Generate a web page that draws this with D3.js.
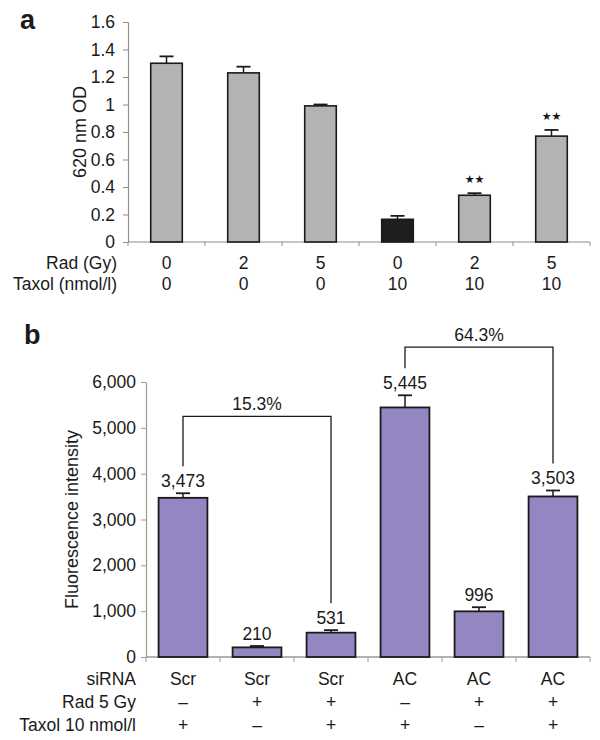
<!DOCTYPE html>
<html><head><meta charset="utf-8">
<script src="https://cdn.jsdelivr.net/npm/d3@7"></script>
<style>
body{margin:0;background:#fff}
svg{display:block;background:#fff}
text{font-family:"Liberation Sans",Arial,Helvetica,sans-serif;fill:#1a1a1a}
</style>
</head><body>
<svg id="chart" width="600" height="740"></svg>
<script>
// ---------- Panel a data ----------
const radA = ["0", "2", "5", "0", "2", "5"];
const taxolA = ["0", "0", "0", "10", "10", "10"];
const valuesA = [1.30, 1.23, 0.99, 0.165, 0.34, 0.77];
const errorsA = [0.05, 0.045, 0.01, 0.025, 0.015, 0.045];
const sigA = ["", "", "", "", "★★", "★★"];
const darkA = [false, false, false, true, false, false];
const yTicksA = [0, 0.2, 0.4, 0.6, 0.8, 1, 1.2, 1.4, 1.6];
const yTickLabelsA = ["0", "0.2", "0.4", "0.6", "0.8", "1", "1.2", "1.4", "1.6"];
const rowLabelsA = ["Rad (Gy)", "Taxol (nmol/l)"];

// ---------- Panel b data ----------
const sirnaB = ["Scr", "Scr", "Scr", "AC", "AC", "AC"];
const radB = ["–", "+", "+", "–", "+", "+"];
const taxolB = ["+", "–", "+", "+", "–", "+"];
const valuesB = [3473, 210, 531, 5445, 996, 3503];
const errorsB = [100, 30, 55, 265, 90, 130];
const yTicksB = [0, 1000, 2000, 3000, 4000, 5000, 6000];
const rowLabelsB = ["siRNA", "Rad 5 Gy", "Taxol 10 nmol/l"];
const bracketFrom = [0, 3];
const bracketTo = [2, 5];
const bracketLevel = [5250, 6760];
const bracketLabel = ["15.3%", "64.3%"];

const svg = d3.select("#chart");
const FS = 17.5;

// ================= PANEL A =================
{
  const n = valuesA.length;
  const x = d3.scaleBand().domain(d3.range(n)).range([128, 590]);
  const y = d3.scaleLinear().domain([0, 1.6]).range([242, 22]);
  const axisCol = "#8e8e8e";
  const bw = x.bandwidth() * 0.41;
  const cx = i => x(i) + x.bandwidth() / 2;

  svg.append("text").attr("x", 20).attr("y", 29)
    .style("font-size", "27px").style("font-weight", "bold").text("a");

  const ya = svg.append("g").attr("transform", "translate(128,0)")
    .call(d3.axisLeft(y).tickValues(yTicksA).tickFormat((d, i) => yTickLabelsA[i])
      .tickSize(5).tickSizeOuter(0).tickPadding(8));
  ya.select(".domain").attr("stroke", axisCol).attr("stroke-width", 1.2);
  ya.selectAll(".tick line").attr("stroke", axisCol);
  ya.selectAll(".tick text").style("font-size", FS + "px")
    .style("font-family", "'Liberation Sans',Arial,sans-serif").attr("fill", "#1a1a1a");

  const g = svg.append("g");
  g.append("line").attr("x1", x.range()[0]).attr("x2", x.range()[1])
    .attr("y1", y(0)).attr("y2", y(0)).attr("stroke", axisCol).attr("stroke-width", 1.2);
  const bounds = d3.range(n).map(i => x(i)).concat([x.range()[1]]);
  g.selectAll(".bt").data(bounds).join("line")
    .attr("x1", d => d).attr("x2", d => d).attr("y1", y(0)).attr("y2", y(0) + 4)
    .attr("stroke", axisCol);

  g.selectAll(".eb").data(valuesA).join("g").each(function (d, i) {
    const s = d3.select(this);
    s.append("line").attr("x1", cx(i)).attr("x2", cx(i))
      .attr("y1", y(d)).attr("y2", y(d + errorsA[i])).attr("stroke", "#1a1a1a").attr("stroke-width", 1.5);
    s.append("line").attr("x1", cx(i) - 7).attr("x2", cx(i) + 7)
      .attr("y1", y(d + errorsA[i])).attr("y2", y(d + errorsA[i])).attr("stroke", "#1a1a1a").attr("stroke-width", 1.8);
  });

  g.selectAll(".bar").data(valuesA).join("rect")
    .attr("x", (d, i) => cx(i) - bw / 2).attr("width", bw)
    .attr("y", d => y(d)).attr("height", d => y(0) - y(d))
    .attr("fill", (d, i) => darkA[i] ? "#1e1e1e" : "#b3b3b3")
    .attr("stroke", "#1a1a1a").attr("stroke-width", 1.6);

  g.selectAll(".sig").data(sigA).join("text")
    .attr("x", (d, i) => cx(i)).attr("y", (d, i) => y(valuesA[i] + errorsA[i]) - 10)
    .attr("text-anchor", "middle")
    .style("font-family", "'DejaVu Sans',sans-serif").style("font-size", "11px")
    .attr("fill", "#222").text(d => d);

  const rows = [radA, taxolA];
  const rowY = [269, 290];
  rows.forEach((arr, r) => {
    svg.append("text").attr("x", 117).attr("y", rowY[r]).attr("text-anchor", "end")
      .style("font-size", FS + "px").text(rowLabelsA[r]);
    svg.selectAll(".rowA" + r).data(arr).join("text")
      .attr("x", (d, i) => cx(i)).attr("y", rowY[r]).attr("text-anchor", "middle")
      .style("font-size", FS + "px").text(d => d);
  });

  svg.append("text").attr("transform", `translate(86,${(y(0) + y(1.6)) / 2}) rotate(-90)`)
    .attr("text-anchor", "middle").style("font-size", "18px").text("620 nm OD");
}

// ================= PANEL B =================
{
  const n = valuesB.length;
  const x = d3.scaleBand().domain(d3.range(n)).range([146, 590]);
  const y = d3.scaleLinear().domain([0, 6000]).range([657, 382]);
  const axisCol = "#a39696";
  const bw = x.bandwidth() * 0.66;
  const cx = i => x(i) + x.bandwidth() / 2;
  const fmt = d3.format(",");

  svg.append("text").attr("x", 24).attr("y", 344)
    .style("font-size", "27px").style("font-weight", "bold").text("b");

  const ya = svg.append("g").attr("transform", "translate(146,0)")
    .call(d3.axisLeft(y).tickValues(yTicksB).tickFormat(fmt)
      .tickSize(5).tickSizeOuter(0).tickPadding(5));
  ya.select(".domain").attr("stroke", axisCol).attr("stroke-width", 1.2);
  ya.selectAll(".tick line").attr("stroke", axisCol);
  ya.selectAll(".tick text").style("font-size", FS + "px")
    .style("font-family", "'Liberation Sans',Arial,sans-serif").attr("fill", "#1a1a1a");

  const g = svg.append("g");
  g.append("line").attr("x1", x.range()[0]).attr("x2", x.range()[1])
    .attr("y1", y(0)).attr("y2", y(0)).attr("stroke", axisCol).attr("stroke-width", 1.4);
  const bounds = d3.range(n).map(i => x(i)).concat([x.range()[1]]);
  g.selectAll(".bt").data(bounds).join("line")
    .attr("x1", d => d).attr("x2", d => d).attr("y1", y(0)).attr("y2", y(0) + 5)
    .attr("stroke", axisCol);

  const errTopPx = i => y(valuesB[i] + errorsB[i]);
  bracketFrom.forEach((f, k) => {
    const t = bracketTo[k];
    const ly = y(bracketLevel[k]);
    g.append("path")
      .attr("d", `M${cx(f)},${errTopPx(f) - 27}V${ly}H${cx(t)}V${errTopPx(t) - 27}`)
      .attr("fill", "none").attr("stroke", "#1a1a1a").attr("stroke-width", 1.3);
    g.append("text").attr("x", (cx(f) + cx(t)) / 2).attr("y", ly - 6)
      .attr("text-anchor", "middle").style("font-size", FS + "px").text(bracketLabel[k]);
  });

  g.selectAll(".eb").data(valuesB).join("g").each(function (d, i) {
    const s = d3.select(this);
    s.append("line").attr("x1", cx(i)).attr("x2", cx(i))
      .attr("y1", y(d)).attr("y2", y(d + errorsB[i])).attr("stroke", "#1a1a1a").attr("stroke-width", 1.5);
    s.append("line").attr("x1", cx(i) - 7).attr("x2", cx(i) + 7)
      .attr("y1", y(d + errorsB[i])).attr("y2", y(d + errorsB[i])).attr("stroke", "#1a1a1a").attr("stroke-width", 1.8);
  });

  g.selectAll(".bar").data(valuesB).join("rect")
    .attr("x", (d, i) => cx(i) - bw / 2).attr("width", bw)
    .attr("y", d => y(d)).attr("height", d => y(0) - y(d))
    .attr("fill", "#9486c0").attr("stroke", "#1a1a1a").attr("stroke-width", 1.8);

  g.selectAll(".vl").data(valuesB).join("text")
    .attr("x", (d, i) => cx(i)).attr("y", (d, i) => errTopPx(i) - 6)
    .attr("text-anchor", "middle").style("font-size", FS + "px").text(d => fmt(d));

  const rows = [sirnaB, radB, taxolB];
  const rowY = [685, 708, 731];
  rows.forEach((arr, r) => {
    svg.append("text").attr("x", 136).attr("y", rowY[r]).attr("text-anchor", "end")
      .style("font-size", FS + "px").text(rowLabelsB[r]);
    svg.selectAll(".rowB" + r).data(arr).join("text")
      .attr("x", (d, i) => cx(i)).attr("y", rowY[r]).attr("text-anchor", "middle")
      .style("font-size", FS + "px").text(d => d);
  });

  svg.append("text").attr("transform", `translate(78,${(y(0) + y(6000)) / 2}) rotate(-90)`)
    .attr("text-anchor", "middle").style("font-size", "18px").text("Fluorescence intensity");
}
</script>
</body></html>
